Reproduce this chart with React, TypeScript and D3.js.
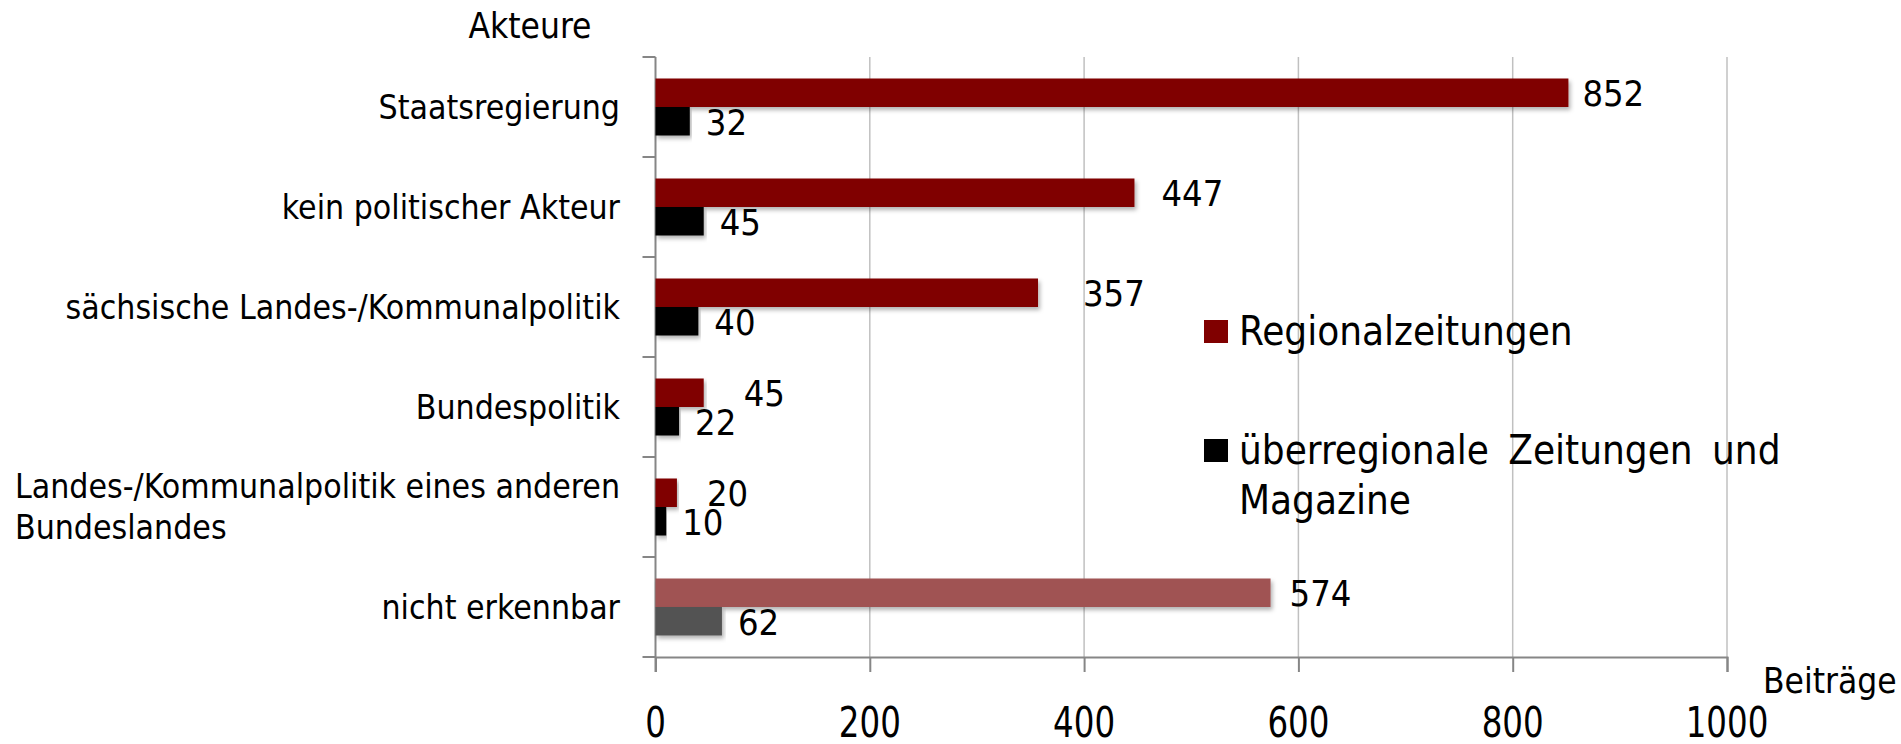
import React, { useEffect, useRef } from "react";
import * as d3 from "d3";

// Akteure in der Berichterstattung (Anzahl Beiträge)
const categories = [
  "Staatsregierung",
  "kein politischer Akteur",
  "sächsische Landes-/Kommunalpolitik",
  "Bundespolitik",
  "Landes-/Kommunalpolitik eines anderen Bundeslandes",
  "nicht erkennbar",
];
const regionalValues = [852, 447, 357, 45, 20, 574];
const nationalValues = [32, 45, 40, 22, 10, 62];
const xTicks = [0, 200, 400, 600, 800, 1000];
const seriesNames = ["Regionalzeitungen", "überregionale Zeitungen und Magazine"];
const yTitle = "Akteure";
const xTitle = "Beiträge";

// the value labels of the red bars are not all at the same distance in the original
const regionalLabelShift = [14, 27, 45, 40, 30, 19];

const W = 1901;
const H = 744;
const FONT = "'DejaVu Sans Condensed', 'DejaVu Sans', sans-serif";

function App() {
  const ref = useRef<SVGSVGElement>(null);

  useEffect(() => {
    document.body.style.margin = "0";
    document.body.style.overflow = "hidden";

    const svg = d3.select(ref.current);
    svg.selectAll("*").remove();
    svg.style("font-family", FONT).style("font-stretch", "condensed");

    const margin = { top: 57, left: 655.5, right: W - 1727, bottom: H - 657 };
    const innerH = H - margin.top - margin.bottom;

    const x = d3.scaleLinear().domain([0, 1000]).range([margin.left, W - margin.right]);
    const y0 = d3
      .scaleBand<string>()
      .domain(categories)
      .range([margin.top, margin.top + innerH])
      .paddingInner(0.43)
      .paddingOuter(0.215);
    const y1 = d3.scaleBand<number>().domain([0, 1]).range([0, y0.bandwidth()]);

    const defs = svg.append("defs");
    const f = defs.append("filter").attr("id", "shadow").attr("x", "-5%").attr("y", "-30%").attr("width", "110%").attr("height", "170%");
    f.append("feDropShadow").attr("dx", 2).attr("dy", 3).attr("stdDeviation", 2).attr("flood-color", "#000").attr("flood-opacity", 0.3);

    // grid
    svg
      .append("g")
      .selectAll("line")
      .data(xTicks.filter((d) => d > 0))
      .join("line")
      .attr("x1", (d) => x(d))
      .attr("x2", (d) => x(d))
      .attr("y1", margin.top)
      .attr("y2", margin.top + innerH)
      .attr("stroke", "#c0c0c0")
      .attr("stroke-width", 1.5);

    // x axis
    const xAxis = d3.axisBottom(x).tickValues(xTicks).tickSize(15).tickFormat(() => "");
    const gx = svg.append("g").attr("transform", `translate(0,${margin.top + innerH})`).call(xAxis);
    gx.select(".domain").attr("stroke", "#868686").attr("stroke-width", 2);
    gx.selectAll(".tick line").attr("stroke", "#868686").attr("stroke-width", 2);

    // tick labels are tall and narrow in the original
    svg
      .append("g")
      .selectAll("text")
      .data(xTicks)
      .join("text")
      .attr("transform", (d) => `translate(${x(d)},737) scale(0.86,1)`)
      .attr("text-anchor", "middle")
      .attr("font-size", 42)
      .attr("fill", "#000")
      .text((d) => d);

    // y axis: ticks between the categories
    const step = y0.step();
    const bounds = d3.range(categories.length + 1).map((i) => margin.top + i * step);
    const gy = svg.append("g");
    gy.append("line")
      .attr("x1", x(0))
      .attr("x2", x(0))
      .attr("y1", margin.top)
      .attr("y2", margin.top + innerH + 15)
      .attr("stroke", "#868686")
      .attr("stroke-width", 2);
    gy.selectAll("line.tk")
      .data(bounds)
      .join("line")
      .attr("class", "tk")
      .attr("x1", x(0) - 13)
      .attr("x2", x(0))
      .attr("y1", (d) => d)
      .attr("y2", (d) => d)
      .attr("stroke", "#868686")
      .attr("stroke-width", 2);

    // category labels, wrapped where they are too long
    const labelRight = 620;
    const maxW = 650;
    categories.forEach((cat) => {
      const t = svg.append("text").attr("font-size", 33.5).attr("fill", "#000");
      const words = cat.split(" ");
      const lines: string[] = [];
      let cur: string[] = [];
      const probe = t.append("tspan");
      words.forEach((w) => {
        const test = [...cur, w].join(" ");
        probe.text(test);
        if ((probe.node() as SVGTextContentElement).getComputedTextLength() > maxW && cur.length) {
          lines.push(cur.join(" "));
          cur = [w];
        } else cur = [...cur, w];
      });
      lines.push(cur.join(" "));
      probe.remove();
      const cy = (y0(cat) as number) + y0.bandwidth() / 2;
      const lh = 41;
      const spans = lines.map((l, i) =>
        t
          .append("tspan")
          .attr("y", cy + (i - (lines.length - 1) / 2) * lh)
          .attr("dominant-baseline", "central")
          .text(l)
      );
      if (lines.length === 1) {
        t.attr("text-anchor", "end");
        spans[0].attr("x", labelRight);
      } else {
        const widest = d3.max(spans, (s) => (s.node() as SVGTextContentElement).getComputedTextLength()) as number;
        spans.forEach((s) => s.attr("x", labelRight - widest));
      }
    });

    // bars
    const colors = ["#800000", "#000000"];
    const fadedColors = ["#a05252", "#525252"];
    const series = [regionalValues, nationalValues];
    series.forEach((vals, si) => {
      svg
        .append("g")
        .selectAll("rect")
        .data(vals)
        .join("rect")
        .attr("x", x(0))
        .attr("y", (_, i) => (y0(categories[i]) as number) + (y1(si) as number))
        .attr("width", (d) => x(d) - x(0))
        .attr("height", y1.bandwidth())
        .attr("fill", (_, i) => (i === categories.length - 1 ? fadedColors[si] : colors[si]))
        .attr("filter", "url(#shadow)");

      svg
        .append("g")
        .selectAll("text")
        .data(vals)
        .join("text")
        .attr("x", (d, i) => x(d) + (si === 0 ? regionalLabelShift[i] : 16))
        .attr("y", (_, i) => (y0(categories[i]) as number) + (y1(si) as number) + y1.bandwidth() / 2 + 1)
        .attr("dominant-baseline", "central")
        .attr("font-size", 36)
        .attr("fill", "#000")
        .text((d) => d);
    });

    // titles
    svg.append("text").attr("x", 530).attr("y", 38).attr("text-anchor", "middle").attr("font-size", 35).text(yTitle);
    svg.append("text").attr("x", 1763).attr("y", 693).attr("font-size", 35).text(xTitle);

    // legend
    const legendLines = [[seriesNames[0]], ["überregionale Zeitungen und", "Magazine"]];
    const legendTop = [320, 439];
    legendLines.forEach((lines, i) => {
      const g = svg.append("g");
      g.append("rect").attr("x", 1204).attr("y", legendTop[i]).attr("width", 24).attr("height", 23).attr("fill", colors[i]);
      lines.forEach((l, j) => {
        g.append("text")
          .attr("x", 1239)
          .attr("y", legendTop[i] + 25 + j * 50)
          .attr("font-size", 40)
          .attr("word-spacing", 8)
          .attr("fill", "#000")
          .text(l);
      });
    });
  }, []);

  return <svg ref={ref} width={W} height={H} style={{ display: "block", background: "#fff" }} />;
}

export default App;
